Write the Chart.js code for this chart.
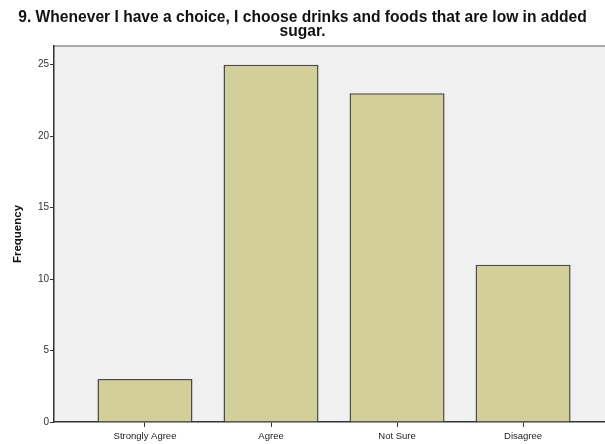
<!DOCTYPE html>
<html>
<head>
<meta charset="utf-8">
<script src="https://cdn.jsdelivr.net/npm/chart.js@4/dist/chart.umd.min.js"></script>
<style>
  html, body { margin: 0; padding: 0; background: #fff; }
  #wrap { width: 605px; height: 444px; }
</style>
</head>
<body>
<div id="wrap"><canvas id="barChart" width="605" height="444"></canvas></div>
<script>
// 데이터
const categories = ['Strongly Agree', 'Agree', 'Not Sure', 'Disagree'];
const frequencies = [3, 25, 23, 11];
const yTicks = [0, 5, 10, 15, 20, 25];
const chartTitle = ['9. Whenever I have a choice, I choose drinks and foods that are low in added', 'sugar.'];

// 회색 배경 + 위쪽 테두리
const plotBackground = {
    id: 'plotBackground',
    beforeDraw(chart) {
        const { ctx, chartArea: a } = chart;
        ctx.save();
        ctx.fillStyle = '#f0f0f0';
        ctx.fillRect(a.left, a.top, a.right - a.left, a.bottom - a.top);
        ctx.strokeStyle = '#8f8f8f';
        ctx.lineWidth = 1.5;
        ctx.beginPath();
        ctx.moveTo(a.left, a.top);
        ctx.lineTo(a.right, a.top);
        ctx.stroke();
        ctx.restore();
    }
};

const ctx = document.getElementById('barChart').getContext('2d');
new Chart(ctx, {
    type: 'bar',
    data: {
        datasets: [{
            data: frequencies.map((v, i) => ({ x: i, y: v })),
            backgroundColor: '#d3cf98',
            borderColor: '#4a4a4a',
            borderWidth: 1.5,
            barPercentage: 0.754,
            categoryPercentage: 1
        }]
    },
    options: {
        responsive: false,
        animation: false,
        layout: { padding: { left: 0, right: 0, top: 0, bottom: 0 } },
        plugins: {
            legend: { display: false },
            tooltip: { enabled: false },
            title: {
                display: true,
                text: chartTitle,
                color: '#111',
                font: { family: 'Arial, "Liberation Sans"', size: 15.6, weight: 'bold', lineHeight: 0.9 },
                padding: { top: 11, bottom: 7 }
            }
        },
        scales: {
            x: {
                type: 'linear',
                offset: false,
                min: -0.722,
                max: 3.65,
                afterBuildTicks: axis => { axis.ticks = categories.map((_, i) => ({ value: i })); },
                ticks: {
                    callback: v => categories[v],
                    color: '#222',
                    font: { family: 'Arial, "Liberation Sans"', size: 9.5 },
                    padding: 4,
                    maxRotation: 0,
                    autoSkip: false
                },
                grid: { offset: false, drawOnChartArea: false, drawTicks: true, tickLength: 5, color: '#333' },
                border: { color: '#333', width: 1.5 },
                afterFit: axis => { axis.height = 22; }
            },
            y: {
                min: 0,
                max: 26.3,
                afterBuildTicks: axis => { axis.ticks = yTicks.map(v => ({ value: v })); },
                ticks: {
                    color: '#333',
                    font: { family: 'Arial, "Liberation Sans"', size: 10 },
                    padding: 1
                },
                grid: { drawOnChartArea: false, drawTicks: true, tickLength: 4, color: '#333' },
                border: { color: '#333', width: 1.5 },
                title: {
                    display: true,
                    text: 'Frequency',
                    color: '#111',
                    font: { family: 'Arial, "Liberation Sans"', size: 11.5, weight: 'bold' },
                    padding: { top: 11, bottom: 0 }
                },
                afterFit: axis => { axis.width = 54; }
            }
        }
    },
    plugins: [plotBackground]
});
</script>
</body>
</html>
